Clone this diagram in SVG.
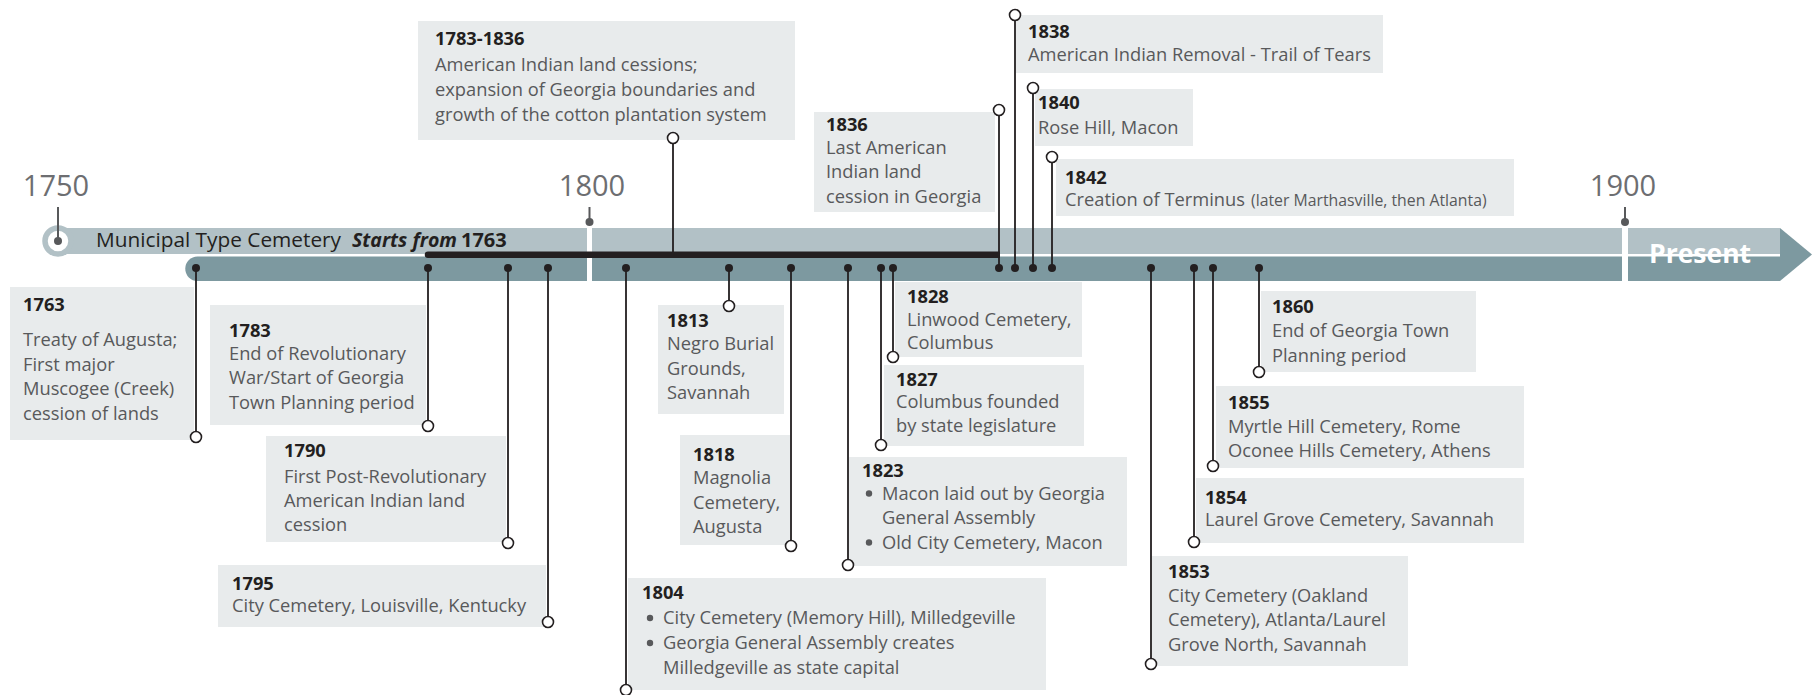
<svg xmlns="http://www.w3.org/2000/svg" width="1812" height="695" viewBox="0 0 1812 695">
<style>
.box{fill:#e8ebec}
.yr{font-family:"Open Sans","Liberation Sans",sans-serif;font-weight:700;font-size:18.3px;fill:#231f20}
.ds{font-family:"Open Sans","Liberation Sans",sans-serif;font-size:18.3px;fill:#58595b}
.sm{font-size:15.8px}
.ax{font-family:"Open Sans","Liberation Sans",sans-serif;font-size:29px;fill:#6d6e71;text-anchor:middle}
.ln{stroke:#231f20;stroke-width:1.8;fill:none}
.tk{stroke:#58595b;stroke-width:2;fill:none}
.dot{fill:#231f20}
.tdot{fill:#58595b}
.end{fill:#fff;stroke:#231f20;stroke-width:1.6}
.bul{fill:#58595b}
.up{fill:#b2c1c6}
.lo{fill:#7d99a0}
</style>
<rect width="1812" height="695" fill="#fff"/>
<g id="timeline">
  <rect class="up" x="58" y="228" width="529" height="26"/>
  <rect class="up" x="592" y="228" width="1030" height="26"/>
  <rect class="up" x="1628" y="228" width="152" height="26"/>
  <path class="lo" d="M197.5 256.5 H587 V281 H197.5 A12.25 12.25 0 0 1 197.5 256.5 Z"/>
  <rect class="lo" x="592" y="256.5" width="1030" height="24.5"/>
  <rect class="lo" x="1628" y="256.5" width="152" height="24.5"/>
  <path class="lo" d="M1780 228 L1812 254.5 L1780 281 Z"/>
  <circle cx="58" cy="241" r="13" fill="#fff" stroke="#b2c1c6" stroke-width="5.5"/>
  <path d="M428 251.5 H1000 V258 H428 A3.25 3.25 0 0 1 428 251.5 Z" fill="#231f20"/>
  <text class="ax" x="56" y="196">1750</text>
  <text class="ax" x="592" y="196">1800</text>
  <text class="ax" x="1623" y="196">1900</text>
  <line class="tk" x1="58" y1="207" x2="58" y2="241"/>
  <circle class="tdot" cx="58" cy="241" r="4"/>
  <line class="tk" x1="589.5" y1="207" x2="589.5" y2="222"/>
  <circle class="tdot" cx="589.5" cy="222" r="4"/>
  <line class="tk" x1="1625" y1="207" x2="1625" y2="222"/>
  <circle class="tdot" cx="1625" cy="222" r="4"/>
  <text x="96" y="247" font-family="Open Sans, Liberation Sans, sans-serif" font-size="20.8" fill="#231f20">Municipal Type Cemetery</text>
  <text x="352" y="247" font-family="Open Sans, Liberation Sans, sans-serif" font-size="19.5" font-weight="700" font-style="italic" fill="#231f20">Starts from</text>
  <text x="461" y="247" font-family="Open Sans, Liberation Sans, sans-serif" font-size="20" font-weight="700" fill="#231f20">1763</text>
  <text x="1649" y="263" font-family="Open Sans, Liberation Sans, sans-serif" font-size="26.5" font-weight="700" fill="#fff">Present</text>
</g>
<g id="n1763">
  <rect class="box" x="10" y="287" width="184" height="153"/>
  <text class="yr" x="23" y="311">1763</text>
  <text class="ds" x="23" y="346">Treaty of Augusta;</text>
  <text class="ds" x="23" y="370.5">First major</text>
  <text class="ds" x="23" y="395">Muscogee (Creek)</text>
  <text class="ds" x="23" y="419.5">cession of lands</text>
</g>
<g id="n1783">
  <rect class="box" x="210" y="305" width="216" height="120"/>
  <text class="yr" x="229" y="337">1783</text>
  <text class="ds" x="229" y="359.5">End of Revolutionary</text>
  <text class="ds" x="229" y="384">War/Start of Georgia</text>
  <text class="ds" x="229" y="408.5">Town Planning period</text>
</g>
<g id="n1790">
  <rect class="box" x="266" y="436" width="240" height="106"/>
  <text class="yr" x="284" y="456.5">1790</text>
  <text class="ds" x="284" y="483">First Post-Revolutionary</text>
  <text class="ds" x="284" y="507">American Indian land</text>
  <text class="ds" x="284" y="531">cession</text>
</g>
<g id="n1795">
  <rect class="box" x="218" y="565" width="328" height="62"/>
  <text class="yr" x="232" y="589.5">1795</text>
  <text class="ds" x="232" y="612">City Cemetery, Louisville, Kentucky</text>
</g>
<g id="n1804">
  <rect class="box" x="628" y="578" width="418" height="112"/>
  <text class="yr" x="642" y="598.5">1804</text>
  <circle class="bul" cx="650" cy="618" r="3.2"/>
  <text class="ds" x="663" y="624">City Cemetery (Memory Hill), Milledgeville</text>
  <circle class="bul" cx="650" cy="643" r="3.2"/>
  <text class="ds" x="663" y="649">Georgia General Assembly creates</text>
  <text class="ds" x="663" y="674">Milledgeville as state capital</text>
</g>
<g id="n1813">
  <rect class="box" x="658" y="305" width="126" height="109"/>
  <text class="yr" x="667" y="327">1813</text>
  <text class="ds" x="667" y="350">Negro Burial</text>
  <text class="ds" x="667" y="374.5">Grounds,</text>
  <text class="ds" x="667" y="399">Savannah</text>
</g>
<g id="n1818">
  <rect class="box" x="680" y="435" width="110" height="110"/>
  <text class="yr" x="693" y="461">1818</text>
  <text class="ds" x="693" y="484">Magnolia</text>
  <text class="ds" x="693" y="508.5">Cemetery,</text>
  <text class="ds" x="693" y="533">Augusta</text>
</g>
<g id="n1823">
  <rect class="box" x="849" y="457" width="278" height="109"/>
  <text class="yr" x="862" y="477">1823</text>
  <circle class="bul" cx="869" cy="493.5" r="3.2"/>
  <text class="ds" x="882" y="499.5">Macon laid out by Georgia</text>
  <text class="ds" x="882" y="524">General Assembly</text>
  <circle class="bul" cx="869" cy="542.5" r="3.2"/>
  <text class="ds" x="882" y="548.5">Old City Cemetery, Macon</text>
</g>
<g id="n1827">
  <rect class="box" x="884" y="365" width="200" height="81"/>
  <text class="yr" x="896" y="386">1827</text>
  <text class="ds" x="896" y="408">Columbus founded</text>
  <text class="ds" x="896" y="432">by state legislature</text>
</g>
<g id="n1828">
  <rect class="box" x="895" y="282" width="187" height="75"/>
  <text class="yr" x="907" y="302.5">1828</text>
  <text class="ds" x="907" y="325.5">Linwood Cemetery,</text>
  <text class="ds" x="907" y="349">Columbus</text>
</g>
<g id="n1853">
  <rect class="box" x="1152" y="556" width="256" height="110"/>
  <text class="yr" x="1168" y="578">1853</text>
  <text class="ds" x="1168" y="601.5">City Cemetery (Oakland</text>
  <text class="ds" x="1168" y="626">Cemetery), Atlanta/Laurel</text>
  <text class="ds" x="1168" y="650.5">Grove North, Savannah</text>
</g>
<g id="n1854">
  <rect class="box" x="1196" y="478" width="328" height="65"/>
  <text class="yr" x="1205" y="504">1854</text>
  <text class="ds" x="1205" y="526">Laurel Grove Cemetery, Savannah</text>
</g>
<g id="n1855">
  <rect class="box" x="1216" y="386" width="308" height="82"/>
  <text class="yr" x="1228" y="409">1855</text>
  <text class="ds" x="1228" y="432.5">Myrtle Hill Cemetery, Rome</text>
  <text class="ds" x="1228" y="457">Oconee Hills Cemetery, Athens</text>
</g>
<g id="n1860">
  <rect class="box" x="1261" y="291" width="215" height="81"/>
  <text class="yr" x="1272" y="313">1860</text>
  <text class="ds" x="1272" y="337">End of Georgia Town</text>
  <text class="ds" x="1272" y="362">Planning period</text>
</g>
<g id="n1836">
  <rect class="box" x="814" y="112" width="181" height="100"/>
  <text class="yr" x="826" y="131">1836</text>
  <text class="ds" x="826" y="153.5">Last American</text>
  <text class="ds" x="826" y="178">Indian land</text>
  <text class="ds" x="826" y="203">cession in Georgia</text>
</g>
<g id="n1838">
  <rect class="box" x="1016" y="15" width="367" height="58"/>
  <text class="yr" x="1028" y="38">1838</text>
  <text class="ds" x="1028" y="61">American Indian Removal - Trail of Tears</text>
</g>
<g id="n1840">
  <rect class="box" x="1035" y="89" width="158" height="57"/>
  <text class="yr" x="1038" y="109">1840</text>
  <text class="ds" x="1038" y="133.5">Rose Hill, Macon</text>
</g>
<g id="n1842">
  <rect class="box" x="1056" y="159" width="458" height="57"/>
  <text class="yr" x="1065" y="184">1842</text>
  <text class="ds" x="1065" y="205.5">Creation of Terminus</text>
  <text class="ds sm" x="1251" y="205.5">(later Marthasville, then Atlanta)</text>
</g>
<g id="n1783-1836">
  <rect class="box" x="418" y="21" width="377" height="119"/>
  <text class="yr" x="435" y="45">1783-1836</text>
  <text class="ds" x="435" y="71">American Indian land cessions;</text>
  <text class="ds" x="435" y="96">expansion of Georgia boundaries and</text>
  <text class="ds" x="435" y="120.5">growth of the cotton plantation system</text>
</g>
<g id="connectors">
  <path class="ln" d="M196 268V437M428 268V426M508 268V543M548 268V622M626 268V690M729 268V306M791 268V546M848 268V565M881 268V445M893 268V357M1151 268V664M1194 268V542M1213 268V466M1259 268V372M999 268V110M1015 268V15M1033 268V88M1052 268V157M673 252V138"/>
  <g class="dot">
    <circle cx="196" cy="268" r="4"/><circle cx="428" cy="268" r="4"/><circle cx="508" cy="268" r="4"/><circle cx="548" cy="268" r="4"/>
    <circle cx="626" cy="268" r="4"/><circle cx="729" cy="268" r="4"/><circle cx="791" cy="268" r="4"/><circle cx="848" cy="268" r="4"/>
    <circle cx="881" cy="268" r="4"/><circle cx="893" cy="268" r="4"/><circle cx="999" cy="268" r="4"/><circle cx="1015" cy="268" r="4"/>
    <circle cx="1033" cy="268" r="4"/><circle cx="1052" cy="268" r="4"/><circle cx="1151" cy="268" r="4"/><circle cx="1194" cy="268" r="4"/>
    <circle cx="1213" cy="268" r="4"/><circle cx="1259" cy="268" r="4"/>
  </g>
  <g class="end">
    <circle cx="196" cy="437" r="5.5"/><circle cx="428" cy="426" r="5.5"/><circle cx="508" cy="543" r="5.5"/><circle cx="548" cy="622" r="5.5"/>
    <circle cx="626" cy="690" r="5.5"/><circle cx="729" cy="306" r="5.5"/><circle cx="791" cy="546" r="5.5"/><circle cx="848" cy="565" r="5.5"/>
    <circle cx="881" cy="445" r="5.5"/><circle cx="893" cy="357" r="5.5"/><circle cx="1151" cy="664" r="5.5"/><circle cx="1194" cy="542" r="5.5"/>
    <circle cx="1213" cy="466" r="5.5"/><circle cx="1259" cy="372" r="5.5"/><circle cx="999" cy="110" r="5.5"/><circle cx="1015" cy="15" r="5.5"/>
    <circle cx="1033" cy="88" r="5.5"/><circle cx="1052" cy="157" r="5.5"/><circle cx="673" cy="138" r="5.5"/>
  </g>
</g>
</svg>
